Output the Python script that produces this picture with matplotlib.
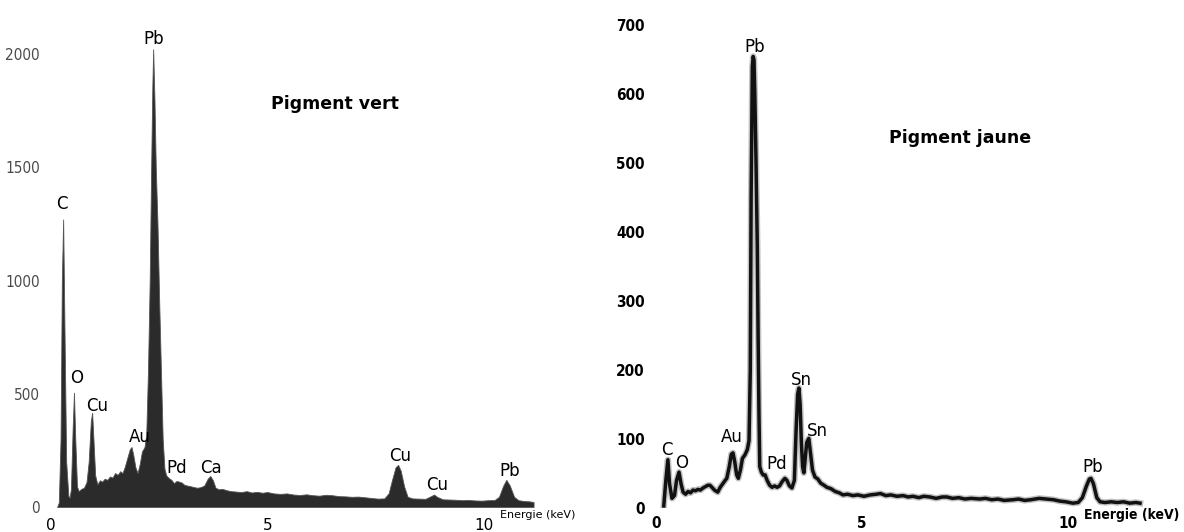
import matplotlib
matplotlib.use("Agg")
import matplotlib.pyplot as plt

# --- Pigment vert (filled EDX spectrum) ---
vert_energy = [0.14, 0.18, 0.22, 0.25, 0.28, 0.31, 0.35, 0.40, 0.43, 0.46, 0.50, 0.53, 0.56, 0.60,
               0.64, 0.70, 0.76, 0.82, 0.87, 0.92, 0.95, 0.98, 1.02, 1.07, 1.13, 1.18, 1.24, 1.30,
               1.36, 1.42, 1.48, 1.54, 1.60, 1.65, 1.70, 1.76, 1.82, 1.86, 1.90, 1.95, 2.00, 2.05,
               2.10, 2.16, 2.20, 2.24, 2.28, 2.31, 2.34, 2.36, 2.39, 2.42, 2.46, 2.50, 2.54, 2.58,
               2.62, 2.66, 2.72, 2.78, 2.84, 2.90, 2.96, 3.02, 3.08, 3.14, 3.22, 3.30, 3.38, 3.46,
               3.54, 3.62, 3.68, 3.74, 3.80, 3.88, 3.96, 4.06, 4.16, 4.28, 4.40, 4.52, 4.64, 4.76,
               4.88, 5.00, 5.15, 5.30, 5.45, 5.60, 5.75, 5.90, 6.05, 6.20, 6.35, 6.50, 6.65, 6.80,
               6.95, 7.10, 7.25, 7.40, 7.55, 7.70, 7.80, 7.88, 7.96, 8.02, 8.08, 8.16, 8.24, 8.35,
               8.50, 8.65, 8.78, 8.85, 8.92, 9.05, 9.20, 9.35, 9.50, 9.65, 9.80, 9.95, 10.10, 10.25,
               10.35, 10.45, 10.52, 10.60, 10.70, 10.80, 10.95, 11.05, 11.15]
vert_counts = [0, 20, 300, 1000, 1270, 800, 200, 50, 40, 80, 350, 505, 300, 90,
               70, 80, 85, 110, 200, 380, 416, 300, 140, 100, 118, 112, 125, 120,
               135, 130, 150, 142, 158, 150, 175, 215, 255, 265, 230, 175, 150, 190,
               245, 265, 320, 600, 1000, 1450, 1850, 2022, 1800, 1500, 1250, 900, 600, 300,
               170, 140, 128, 120, 105, 115, 112, 108, 98, 95, 92, 88, 85, 88,
               95, 125, 137, 118, 85, 78, 80, 74, 70, 68, 66, 70, 64, 67,
               63, 66, 60, 58, 60, 55, 53, 56, 52, 50, 54, 52, 48, 47,
               45, 46, 43, 40, 37, 38, 60, 120, 175, 186, 160, 90, 45, 38,
               37, 36, 48, 55, 45, 34, 33, 32, 30, 31, 29, 28, 30, 31,
               45, 95, 120, 95, 45, 30, 26, 25, 22]
vert_peaks = ["C", "O", "Cu", "Au", "Pb", "Pd", "Ca", "Cu", "Cu", "Pb"]
vert_peak_e = [0.25, 0.58, 1.06, 2.06, 2.38, 2.91, 3.70, 8.06, 8.91, 10.60]
vert_peak_y = [1338, 570, 446, 309, 2066, 172, 172, 225, 97, 159]
vert_yticks = [0, 500, 1000, 1500, 2000]

# --- Pigment jaune (line EDX spectrum) ---
jaune_energy = [0.19, 0.24, 0.29, 0.33, 0.39, 0.45, 0.50, 0.56, 0.61, 0.66, 0.72, 0.78, 0.84, 0.90,
                0.96, 1.02, 1.08, 1.14, 1.20, 1.26, 1.31, 1.36, 1.42, 1.50, 1.56, 1.62, 1.68, 1.72,
                1.78, 1.83, 1.87, 1.91, 1.96, 2.00, 2.05, 2.10, 2.16, 2.22, 2.26, 2.29, 2.31, 2.34,
                2.36, 2.38, 2.40, 2.43, 2.46, 2.48, 2.50, 2.52, 2.56, 2.60, 2.65, 2.70, 2.76, 2.82,
                2.88, 2.94, 3.00, 3.06, 3.13, 3.18, 3.24, 3.30, 3.36, 3.40, 3.44, 3.47, 3.50, 3.53,
                3.56, 3.59, 3.62, 3.66, 3.71, 3.75, 3.80, 3.86, 3.93, 4.00, 4.08, 4.15, 4.25, 4.35,
                4.45, 4.54, 4.65, 4.78, 4.90, 5.05, 5.20, 5.35, 5.45, 5.58, 5.70, 5.85, 6.00, 6.12,
                6.24, 6.38, 6.50, 6.65, 6.80, 6.95, 7.06, 7.20, 7.35, 7.50, 7.65, 7.86, 8.00, 8.15,
                8.30, 8.45, 8.67, 8.80, 8.95, 9.10, 9.30, 9.49, 9.65, 9.80, 9.95, 10.12, 10.25, 10.35,
                10.45, 10.52, 10.56, 10.62, 10.70, 10.78, 10.90, 11.05, 11.20, 11.35, 11.50, 11.65, 11.75]
jaune_counts = [3, 40, 70, 35, 14, 18, 40, 52, 35, 23, 20, 24, 22, 26,
                25, 27, 26, 29, 31, 33, 33, 30, 26, 23, 30, 35, 40, 43,
                60, 78, 80, 68, 48, 43, 55, 72, 77, 85, 98, 200, 450, 640,
                655, 650, 600, 500, 380, 250, 140, 60, 52, 48, 48, 40, 33, 30,
                32, 30, 32, 38, 43, 40, 32, 29, 40, 110, 165, 174, 150, 95,
                60, 51, 70, 95, 101, 80, 55, 45, 42, 36, 33, 30, 28, 24,
                22, 19, 20, 18, 19, 17, 19, 20, 21, 18, 19, 17, 18, 16,
                17, 15, 17, 16, 14, 16, 16, 14, 15, 13, 14, 13, 14, 12,
                13, 11, 12, 13, 11, 12, 14, 13, 12, 10, 9, 7, 8, 15,
                32, 42, 43, 35, 15, 9, 8, 9, 8, 9, 7, 8, 7]
jaune_peaks = ["C", "O", "Au", "Pb", "Pd", "Sn", "Sn", "Pb"]
jaune_peak_e = [0.27, 0.63, 1.84, 2.40, 2.94, 3.52, 3.91, 10.61]
jaune_peak_y = [84, 65, 103, 669, 64, 186, 112, 59]
jaune_yticks = [0, 100, 200, 300, 400, 500, 600, 700]

xticks = [0, 5, 10]

fig = plt.figure(figsize=(11.84, 5.32), dpi=100)

# left panel
ax1 = fig.add_axes([0.0431, 0.047, 0.424, 0.915])
ax1.fill_between(vert_energy, vert_counts, 0, color="#2b2b2b", linewidth=0.6, edgecolor="#555555")
ax1.set_xlim(0, 11.6)
ax1.set_ylim(0, 2150)
ax1.set_xticks(xticks)
ax1.set_yticks(vert_yticks)
ax1.tick_params(length=0)
ax1.tick_params(axis="x", pad=8, labelsize=11)
ax1.tick_params(axis="y", pad=8, labelsize=11, labelcolor="#4a4a4a")
for lab in ax1.get_yticklabels():
    lab.set_fontstretch("condensed")
for name, e, y in zip(vert_peaks, vert_peak_e, vert_peak_y):
    ax1.text(e, y, name, ha="center", va="center", fontsize=12)

# right panel
ax2 = fig.add_axes([0.554, 0.0451, 0.428, 0.946])
ax2.plot(jaune_energy, jaune_counts, color="#999999", linewidth=4.6, alpha=0.6, solid_joinstyle="round")
ax2.plot(jaune_energy, jaune_counts, color="#111111", linewidth=2.5, solid_joinstyle="round")
ax2.set_xlim(0, 12.3)
ax2.set_ylim(0, 730)
ax2.set_xticks(xticks)
ax2.set_yticks(jaune_yticks)
ax2.tick_params(length=0, labelsize=11)
ax2.tick_params(axis="x", pad=5.5)
ax2.tick_params(axis="y", pad=8)
for lab in ax2.get_xticklabels() + ax2.get_yticklabels():
    lab.set_fontstretch("condensed")
    lab.set_fontweight("bold")
for name, e, y in zip(jaune_peaks, jaune_peak_e, jaune_peak_y):
    ax2.text(e, y, name, ha="center", va="center", fontsize=12)

for ax in (ax1, ax2):
    for sp in ax.spines.values():
        sp.set_visible(False)
    ax.set_facecolor("none")

fig.text(0.283, 0.8045, "Pigment vert", ha="center", va="center", fontsize=12.5, fontweight="bold")
fig.text(0.811, 0.741, "Pigment jaune", ha="center", va="center", fontsize=12.5, fontweight="bold")
fig.text(538 / 1184, 1 - 515 / 532, "Energie (keV)", ha="center", va="center", fontsize=8)
fig.text(1132 / 1184, 1 - 515 / 532, "Energie (keV)", ha="center", va="center",
         fontsize=10, fontweight="bold", fontstretch="condensed")

fig.savefig("out.png", dpi=100)
